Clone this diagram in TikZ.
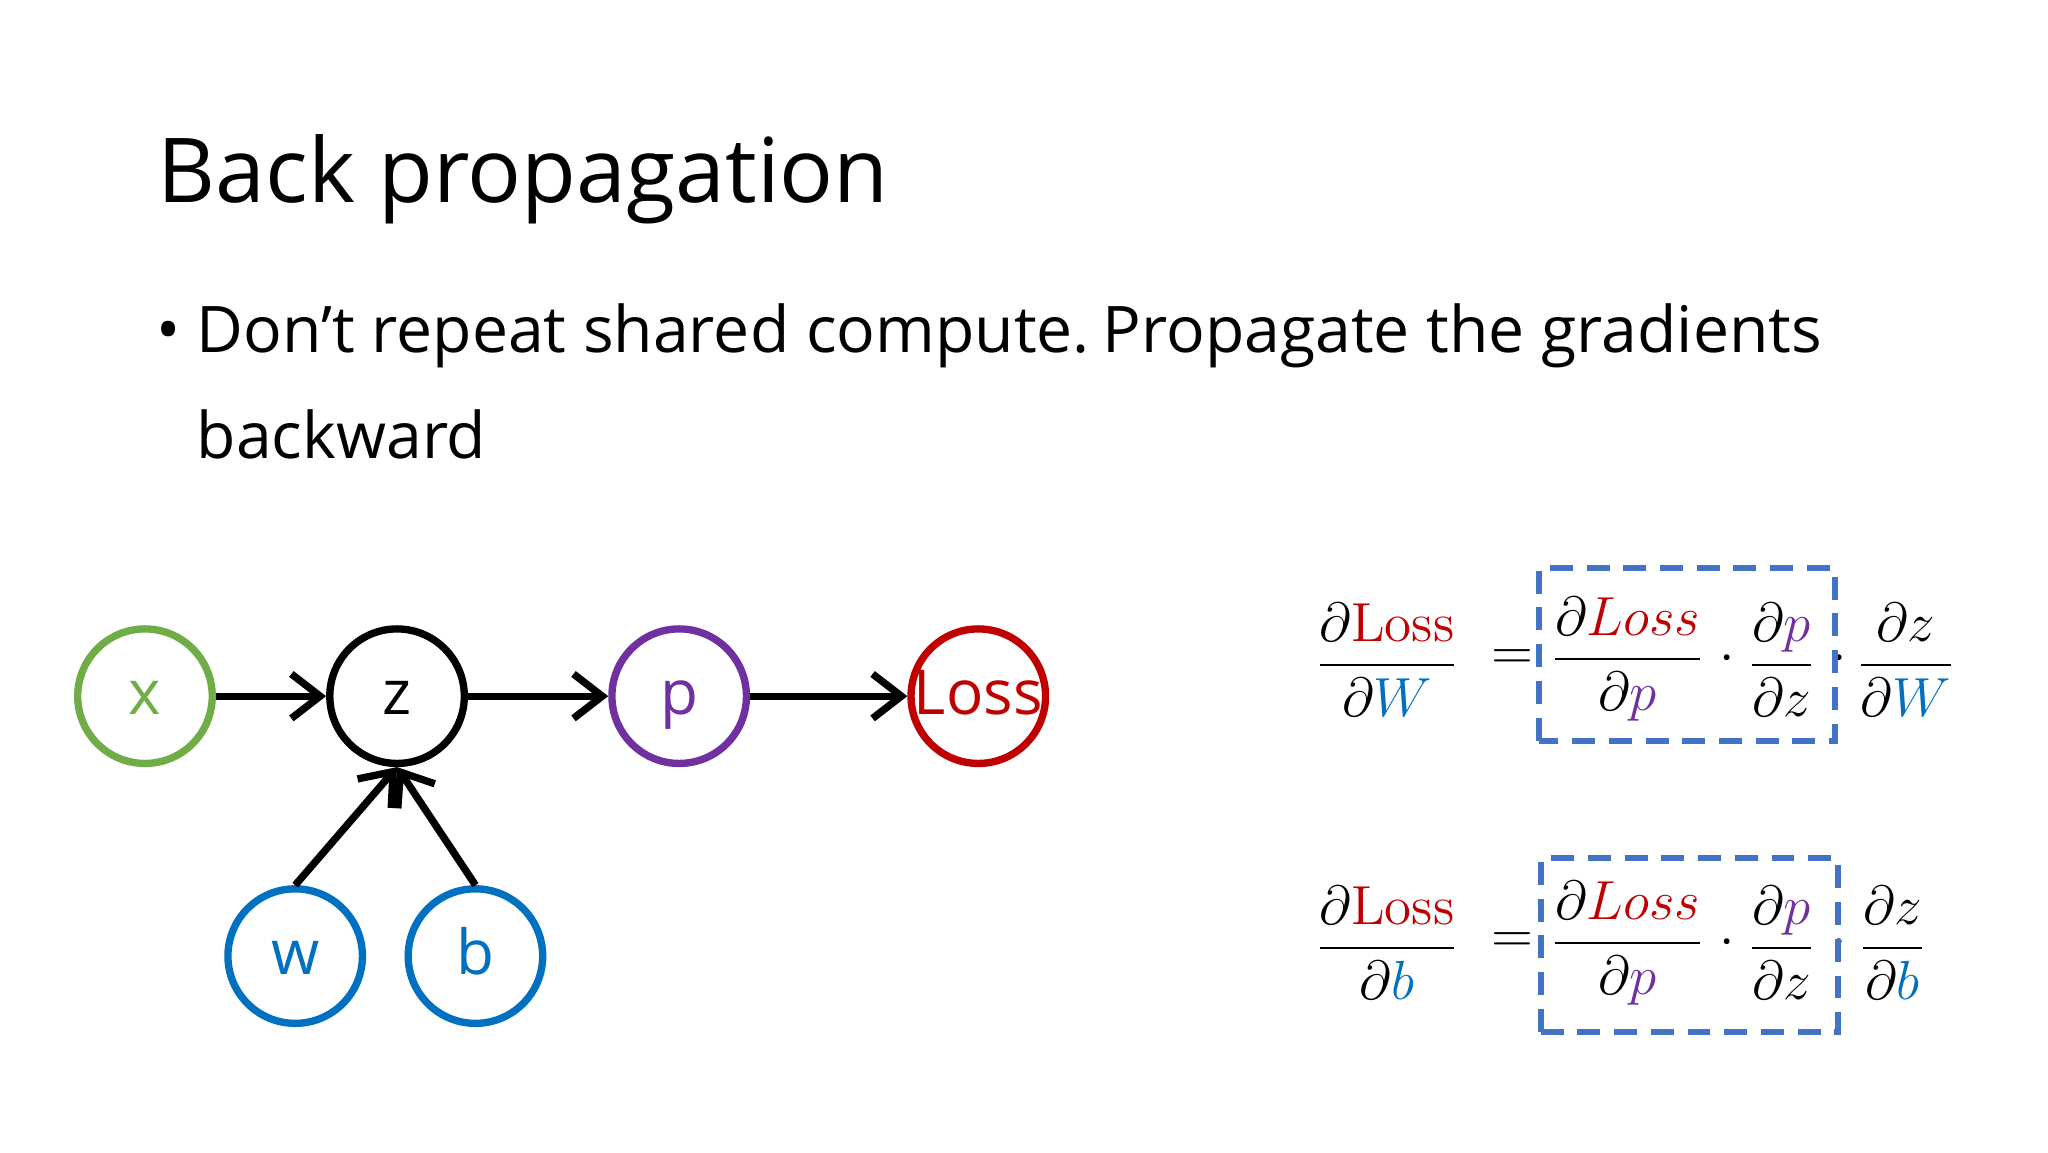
\documentclass[tikz,border=0pt]{standalone}
\usepackage{amsmath}
\usepackage[no-math]{fontspec}
\setmainfont{Open Sans}
\usetikzlibrary{arrows.meta}
\definecolor{cred}{HTML}{C00000}
\definecolor{cpur}{HTML}{7030A0}
\definecolor{cblu}{HTML}{0070C0}
\definecolor{cgrn}{HTML}{70AD47}
\definecolor{cbox}{HTML}{4472C4}
\tikzset{
  nd/.style={circle,draw,line width=1.6pt,minimum size=1.03cm,inner sep=0pt,text height=1.5ex,text depth=0pt,font=\fontsize{13.5}{16}\selectfont},
  arr/.style={line width=1.6pt,-{Straight Barb[length=2.2mm,width=3.4mm]}},
  fr/.style={font=\fontsize{13}{15}\selectfont,inner sep=0pt},
  bx/.style={draw=cbox,dashed,line width=1.3pt,dash pattern=on 5pt off 3pt}
}
\begin{document}
\begin{tikzpicture}
\useasboundingbox[fill=white] (0,0) rectangle (15.68,8.82);
\node[anchor=base west,inner sep=0pt,font=\fontsize{19.5}{22}\selectfont] (title) at (1.20,7.27) {Back propagation};
\node[anchor=base west,inner sep=0pt,font=\fontsize{14}{17}\selectfont] (bul) at (1.19,6.12) {•};
\node[anchor=base west,inner sep=0pt,font=\fontsize{14}{17}\selectfont] (l1) at (1.50,6.12) {Don’t repeat shared compute.\hspace{-0.15em} Propagate the gradients};
\node[anchor=base west,inner sep=0pt,font=\fontsize{14}{17}\selectfont] (l2) at (1.50,5.31) {backward};
% graph
\node[nd,draw=cgrn,text=cgrn] (x) at (1.11,3.49) {x};
\node[nd] (z) at (3.04,3.49) {z};
\node[nd,draw=cpur,text=cpur] (p) at (5.20,3.49) {p};
\node[nd,draw=cred,text=cred] (L) at (7.49,3.49) {Loss};
\node[nd,draw=cblu,text=cblu] (w) at (2.26,1.50) {w};
\node[nd,draw=cblu,text=cblu] (b) at (3.64,1.50) {b};
\draw[arr] (x) -- (z);
\draw[arr] (z) -- (p);
\draw[arr] (p) -- (L);
\draw[arr] (w.north) -- (z.south);
\draw[arr] (b.north) -- (z.south);
% equation 1
\node[fr] (a1) at (10.62,3.77) {$\dfrac{\partial\textcolor{cred}{\mathrm{Loss}}}{\partial \textcolor{cblu}{W}}$};
\node[fr] (e1) at (11.58,3.77) {$=$};
\node[fr] (b1) at (12.46,3.77) {$\dfrac{\partial\textcolor{cred}{Loss}}{\partial \textcolor{cpur}{p}}$};
\node[fr] (d1) at (13.22,3.77) {$\cdot$};
\node[fr] (c1) at (13.64,3.77) {$\dfrac{\partial\textcolor{cpur}{p}}{\partial z}$};
\node[fr] (f1) at (14.08,3.77) {$\cdot$};
\node[fr] (g1) at (14.59,3.77) {$\dfrac{\partial z}{\partial \textcolor{cblu}{W}}$};
\draw[bx] (11.78,3.15) rectangle (14.05,4.47);
% equation 2
\node[fr] (a2) at (10.62,1.60) {$\dfrac{\partial\textcolor{cred}{\mathrm{Loss}}}{\partial \textcolor{cblu}{b}}$};
\node[fr] (e2) at (11.58,1.60) {$=$};
\node[fr] (b2) at (12.46,1.60) {$\dfrac{\partial\textcolor{cred}{Loss}}{\partial \textcolor{cpur}{p}}$};
\node[fr] (d2) at (13.22,1.60) {$\cdot$};
\node[fr] (c2) at (13.64,1.60) {$\dfrac{\partial\textcolor{cpur}{p}}{\partial z}$};
\node[fr] (f2) at (14.08,1.60) {$\cdot$};
\node[fr] (g2) at (14.49,1.60) {$\dfrac{\partial z}{\partial \textcolor{cblu}{b}}$};
\draw[bx] (11.80,0.92) rectangle (14.07,2.25);
\end{tikzpicture}
\end{document}
